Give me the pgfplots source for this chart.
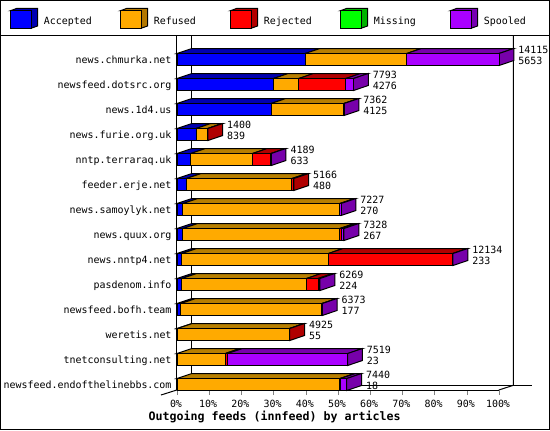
\documentclass[border=0pt]{standalone}
\usepackage{pgfplots}
\usepackage{pgfplotstable}
\usepackage{fontspec}
\pgfplotsset{compat=1.18}
\setmainfont{DejaVu Sans Mono}

\definecolor{cA}{HTML}{0000FF}\definecolor{cAd}{HTML}{0000B0}
\definecolor{cR}{HTML}{FFAA00}\definecolor{cRd}{HTML}{B87F00}
\definecolor{cX}{HTML}{FF0000}\definecolor{cXd}{HTML}{B00000}
\definecolor{cM}{HTML}{00FF00}\definecolor{cMd}{HTML}{00A000}
\definecolor{cS}{HTML}{AA00FF}\definecolor{cSd}{HTML}{7700AA}

% share of each group in %; topv/botv are the printed totals
\pgfplotstableread{
row acc   ref   rej  mis spo  topv  botv
0   39.8  31.5  0    0   28.7 14115 5653
1   29.96 7.84  14.6 0   2.4  7793  4276
2   29.2  22.6  0    0   0.1  7362  4125
3   5.9   3.6   0.1  0   0    1400  839
4   4.25  19.2  5.7  0   0.1  4189  633
5   2.9   32.8  0.6  0   0    5166  480
6   1.85  48.7  0    0   0.4  7227  270
7   1.85  48.7  0.5  0   0.8  7328  267
8   1.5   45.5  38.6 0   0.1  12134 233
9   1.5   38.7  3.6  0   0.6  6269  224
10  1.2   43.8  0    0   0.1  6373  177
11  0.1   34.8  0.1  0   0    4925  55
12  0     15.0  0.7  0   37.3 7519  23
13  0     50.6  0.2  0   1.9  7440  18
}\feeds

\def\dx{4.6}   % depth of the bars, % units
\def\dy{0.2}   % depth of the bars, row units
\def\hb{0.24}  % half bar height, row units
\def\tsize{\fontsize{7.47pt}{9pt}\selectfont}

\newcommand\seg[2]{%
  \pgfplotstablegetelem{\i}{#1}\of\feeds
  \ifdim\pgfplotsretval pt>0pt
    \pgfmathsetmacro\nxt{\cum+\pgfplotsretval}
    \pgfmathsetmacro\xa{\cum+\dx}
    \pgfmathsetmacro\xb{\nxt+\dx}
    \addplot[face,fill=#2] coordinates {(\cum,\yf)(\nxt,\yf)(\xb,\yb)(\xa,\yb)} --cycle;
    \global\let\cum\nxt
    \gdef\capcol{#2}%
  \fi
}

\pgfplotsset{
  base/.style={
    at={(132.75pt,-292.5pt)}, anchor=south west,
    scale only axis, width=241.5pt, height=265.5pt,
    xmin=0, xmax=100, ymin=-0.94, ymax=13.22, y dir=reverse,
    clip=false, line width=.75pt,
  },
  face/.style={draw=black,line width=.75pt},
}

\begin{document}
\begin{tikzpicture}[every node/.style={font=\tsize}]
\begin{scope}[x=.75pt,y=-.75pt,line width=.75pt]
  \path[use as bounding box] (0,0) rectangle (550,430);
  \fill[white] (0,0) rectangle (550,430);
  \draw (.5,.5) rectangle (549.5,429.5);
  \draw (.5,35.5) -- (549.5,35.5);
  % legend
  \foreach \k/\c/\t in {0/cA/Accepted,1/cR/Refused,2/cX/Rejected,3/cM/Missing,4/cS/Spooled}{
    \begin{scope}[xshift={\k*82.5pt}]
      \filldraw[fill=\c!70!black] (10.5,10.7) -- (17,8.3) -- (37.5,8.3) -- (37.5,26) -- (31,28.3) -- (31,10.7) -- cycle;
      \filldraw[fill=\c] (10.5,10.7) rectangle (31,28.3);
      \node[anchor=west,inner sep=0,text height=5.45pt,text depth=0pt] at (43.4,21) {\t};
    \end{scope}
  }
  % back walls
  \draw (191.6,36) -- (191.6,385.3) -- (532,385.3);
  \draw (513.4,36) -- (513.4,385.3) -- (498.8,390);
  \draw (161,395) -- (191.6,385.3);
\end{scope}

\begin{axis}[base,
    axis x line*=bottom, axis y line*=left,
    tick align=outside, major tick length=3.75pt,
    ytick style={draw=none},
    xtick={0,10,...,100},
    xticklabels={0\%,10\%,20\%,30\%,40\%,50\%,60\%,70\%,80\%,90\%,100\%},
    xticklabel style={inner sep=0,text height=5.45pt,text depth=0pt,xshift=-.75pt,yshift=-3.4pt},
    ytick={0,...,13},
    yticklabels={news.chmurka.net,newsfeed.dotsrc.org,news.1d4.us,news.furie.org.uk,nntp.terraraq.uk,feeder.erje.net,news.samoylyk.net,news.quux.org,news.nntp4.net,pasdenom.info,newsfeed.bofh.team,weretis.net,tnetconsulting.net,newsfeed.endofthelinebbs.com},
    yticklabel style={inner sep=0,text height=5.45pt,text depth=0pt,yshift=-.5pt},
    ticklabel style={font=\tsize},
    xlabel={Outgoing feeds (innfeed) by articles},
    xlabel style={at={(axis description cs:0.303,-0.0763)},anchor=center,inner sep=0,
      font=\fontsize{8.72pt}{10pt}\selectfont\bfseries},
  ]
  \pgfplotsforeachungrouped \i in {0,...,13}{
    \pgfmathsetmacro\yf{\i-\hb}
    \pgfmathsetmacro\yb{\i-\hb-\dy}
    \gdef\cum{0}
    \seg{acc}{cAd}\seg{ref}{cRd}\seg{rej}{cXd}\seg{mis}{cMd}\seg{spo}{cSd}
    % end cap of the bar
    \pgfmathsetmacro\xb{\cum+\dx}
    \pgfmathsetmacro\yl{\i+\hb}
    \pgfmathsetmacro\yk{\i+\hb-\dy}
    \edef\tmp{\noexpand\addplot[face,fill=\capcol] coordinates {(\cum,\yf)(\xb,\yb)(\xb,\yk)(\cum,\yl)} --cycle;}\tmp
    % the two numbers at the end of the bar
    \pgfmathsetmacro\xl{\xb+1.25}
    \pgfmathsetmacro\yt{\i-0.38}
    \pgfmathsetmacro\yv{\i+0.06}
    \pgfplotstablegetelem{\i}{topv}\of\feeds \let\vt\pgfplotsretval
    \pgfplotstablegetelem{\i}{botv}\of\feeds \let\vb\pgfplotsretval
    \edef\tmp{\noexpand\node[anchor=west,inner sep=0,text height=5.45pt,text depth=0pt] at (axis cs:\xl,\yt) {\vt};
      \noexpand\node[anchor=west,inner sep=0,text height=5.45pt,text depth=0pt] at (axis cs:\xl,\yv) {\vb};}\tmp
  }
\end{axis}

\begin{axis}[base, hide axis, xbar stacked, bar width=0.48, ytick=\empty]
  \addplot[fill=cA,draw=black] table[x=acc,y=row] {\feeds};
  \addplot[fill=cR,draw=black] table[x=ref,y=row] {\feeds};
  \addplot[fill=cX,draw=black] table[x=rej,y=row] {\feeds};
  \addplot[fill=cM,draw=black] table[x=mis,y=row] {\feeds};
  \addplot[fill=cS,draw=black] table[x=spo,y=row] {\feeds};
\end{axis}
\end{tikzpicture}
\end{document}
